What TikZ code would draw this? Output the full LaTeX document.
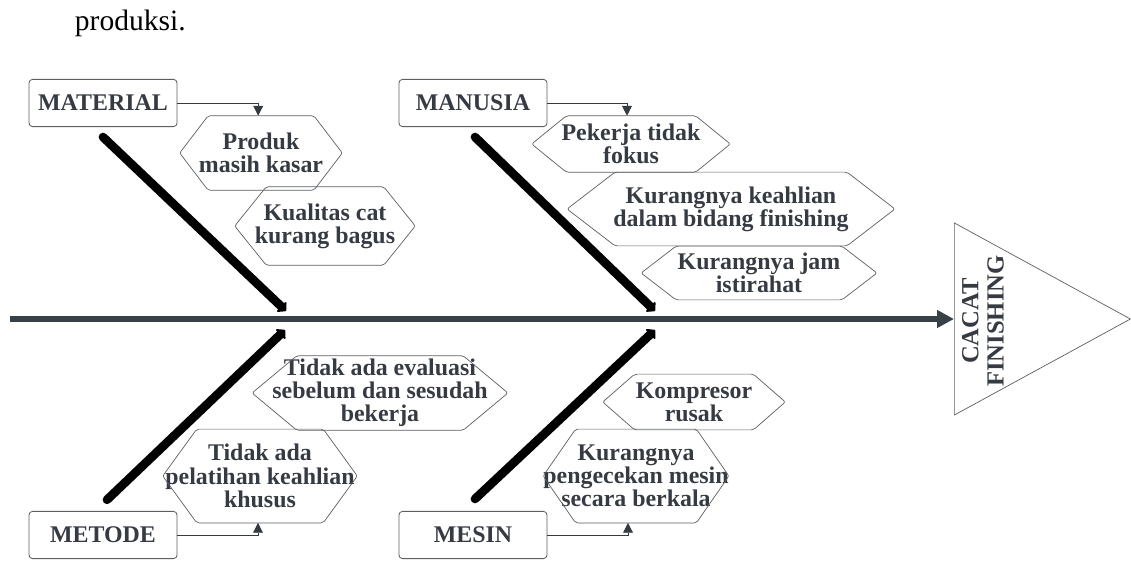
\documentclass[tikz,border=0pt]{standalone}
\usepackage{fontspec}
\setmainfont{Liberation Serif}
\usepackage{tikz}
\usetikzlibrary{arrows.meta,calc,shapes.geometric}
\definecolor{inkgray}{HTML}{363B43}
\definecolor{spinegray}{HTML}{394148}
\definecolor{edgegray}{HTML}{5A5E63}

\begin{document}
\begin{tikzpicture}[x=0.025cm,y=-0.025cm,
    catbox/.style={draw=edgegray,line width=0.6pt,rounded corners=2.5pt,minimum width=3.7cm,minimum height=1.18cm,
      font=\fontsize{17}{19}\selectfont\bfseries,text=inkgray},
    cause/.style={align=center,inner sep=0pt,font=\fontsize{17}{16.5}\selectfont\bfseries,text=inkgray},
    hexline/.style={draw=edgegray,line width=0.5pt,rounded corners=1.5pt},
    bone/.style={line width=6.2pt,line cap=round,-{Triangle[length=5pt,width=11pt,round]}},
    link/.style={draw=inkgray,line width=0.5pt,-{Triangle[length=7pt,width=7pt]}}]
  \useasboundingbox (0,0) rectangle (1131,560);
  \node[anchor=base west,font=\fontsize{21}{24}\selectfont] (intro) at (70,30) {produksi.};

  % head of the fish
  \node[isosceles triangle,isosceles triangle stretches,draw=edgegray,line width=0.5pt,
    minimum width=4.8cm,minimum height=4.4cm,inner sep=0pt,anchor=west] (head) at (954,319) {};
  \node[rotate=90,align=center,text=inkgray,font=\fontsize{17.5}{18}\selectfont\bfseries] (headtext) at (983,321) {CACAT\\FINISHING};
  \coordinate (tail) at (10,319);
  \draw[spinegray,line width=4.8pt,-{Triangle[length=12pt,width=12pt]}] (tail) -- (head.west);

  % categories
  \node[catbox] (mat) at (103,103) {MATERIAL};
  \node[catbox] (man) at (473,103) {MANUSIA};
  \node[catbox] (met) at (103,535) {METODE};
  \node[catbox] (mes) at (473,535) {MESIN};

  % causes
  \node[cause,minimum width=4.05cm,minimum height=1.85cm] (prod) at (261,153) {Produk\\masih kasar};
  \node[cause,minimum width=4.5cm,minimum height=1.95cm] (kual) at (325,226) {Kualitas cat\\kurang bagus};
  \node[cause,minimum width=4.95cm,minimum height=1.4cm] (peker) at (631,144) {Pekerja tidak\\fokus};
  \node[cause,minimum width=8.18cm,minimum height=1.83cm] (keahl) at (731,209) {Kurangnya keahlian\\dalam bidang finishing};
  \node[cause,minimum width=5.88cm,minimum height=1.33cm] (jam) at (759,273) {Kurangnya jam\\istirahat};
  \node[cause,minimum width=6.38cm,minimum height=1.85cm] (eval) at (380,393) {Tidak ada evaluasi\\sebelum dan sesudah\\bekerja};
  \node[cause,minimum width=4.85cm,minimum height=2.33cm] (pelat) at (260,476) {Tidak ada\\pelatihan keahlian\\khusus};
  \node[cause,minimum width=4.55cm,minimum height=1.38cm] (komp) at (694,402) {Kompresor\\rusak};
  \node[cause,minimum width=4.58cm,minimum height=2.33cm] (peng) at (636,476) {Kurangnya\\pengecekan mesin\\secara berkala};
  \foreach \c in {prod,kual,peker,keahl,jam,eval,pelat,komp,peng}
    \draw[hexline] let \p1=(\c.north east), \p2=(\c.south west), \p3=(\c.east),
        \n1={min(0.175*(\x1-\x2),0.65*(\y1-\y2))} in
      (\x2,\y3) -- (\x2+\n1,\y1) -- (\x1-\n1,\y1) -- (\x1,\y3) -- (\x1-\n1,\y2) -- (\x2+\n1,\y2) -- cycle;

  % bones
  \coordinate (matjoin) at (286,311);
  \coordinate (manjoin) at (655,311);
  \coordinate (metjoin) at (285,330);
  \coordinate (mesjoin) at (655,330);
  \draw[bone] ([yshift=-0.25cm]mat.south) -- (matjoin);
  \draw[bone] ([xshift=0.05cm,yshift=-0.25cm]man.south) -- (manjoin);
  \draw[bone] ([xshift=0.1cm,yshift=0.28cm]met.north) -- (metjoin);
  \draw[bone] ([xshift=0.05cm,yshift=0.3cm]mes.north) -- (mesjoin);

  \draw[link] (mat.east) -| ([xshift=-0.07cm]prod.north);
  \draw[link] (man.east) -| ([xshift=-0.1cm]peker.north);
  \draw[link] (met.east) -| ([xshift=-0.05cm]pelat.south);
  \draw[link] (mes.east) -| ([xshift=-0.2cm]peng.south);
\end{tikzpicture}
\end{document}
